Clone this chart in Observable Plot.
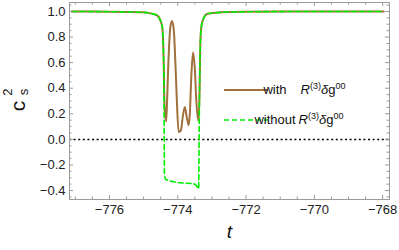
<!DOCTYPE html>
<html>
<head>
<meta charset="utf-8">
<script src="https://cdn.jsdelivr.net/npm/d3@7"></script>
<script src="https://cdn.jsdelivr.net/npm/@observablehq/plot@0.6"></script>
<style>
  body { margin: 0; background: white; }
</style>
</head>
<body>
<div id="chart"></div>
<script>
// ---- data ----
const tWith = [-777.1, -776.5, -776, -775.5, -775, -774.8, -774.655, -774.567, -774.509, -774.45, -774.412, -774.392,
  -774.342, -774.319, -774.275, -774.216, -774.167, -774.114, -774.070, -774.026, -773.974, -773.909, -773.851,
  -773.792, -773.734, -773.681, -773.646, -773.602, -773.553, -773.500, -773.456, -773.389, -773.360, -773.339,
  -773.310, -773.251, -773.143, -772.9, -772.17, -771, -769, -767.97];
const cWith = [1.0, 0.999, 0.998, 0.996, 0.993, 0.985, 0.975, 0.96, 0.93, 0.87, 0.6, 0.3,
  0.14, 0.25, 0.6, 0.88, 0.926, 0.85, 0.6, 0.3, 0.057, 0.07, 0.18,
  0.253, 0.17, 0.11, 0.2, 0.5, 0.68, 0.55, 0.3, 0.143, 0.4, 0.75,
  0.88, 0.94, 0.98, 0.99, 0.997, 0.999, 1.0, 1.0];

const tWithout = [-777.1, -776.5, -776, -775.5, -775, -774.8, -774.655, -774.567, -774.509, -774.45, -774.412, -774.40,
  -774.395, -774.39, -774.36, -774.266, -773.924, -773.535, -773.456, -773.389, -773.375, -773.360, -773.339,
  -773.310, -773.251, -773.143, -772.9, -772.17, -771, -769, -767.97];
const cWithout = [1.0, 0.999, 0.998, 0.996, 0.993, 0.985, 0.975, 0.96, 0.93, 0.87, 0.6, 0.2,
  -0.1, -0.27, -0.31, -0.321, -0.339, -0.347, -0.36, -0.386, 0.0, 0.4, 0.75,
  0.88, 0.94, 0.98, 0.99, 0.997, 0.999, 1.0, 1.0];

const xTickLabels = [-776, -774, -772, -770, -768];
const yTickLabels = [-0.4, -0.2, 0.0, 0.2, 0.4, 0.6, 0.8, 1.0];
const xMinor = d3.range(-777, -767.9, 0.5).filter(v => !xTickLabels.includes(v));
const yMinor = d3.range(-9, 22).map(k => k * 0.05).filter(v => !yTickLabels.some(m => Math.abs(m - v) < 1e-9));

const withData = tWith.map((t, i) => ({t, c: cWith[i]}));
const withoutData = tWithout.map((t, i) => ({t, c: cWithout[i]}));

// ---- layout ----
const W = 399, H = 250, mL = 69, mR = 10, mT = 2, mB = 51;
const fw = W - mL - mR, fh = H - mT - mB;
const frameGray = "#9a9a9a";
const brown = "#a0703d", green = "#00ee00";

const plot = Plot.plot({
  width: W, height: H,
  marginLeft: mL, marginRight: mR, marginTop: mT, marginBottom: mB,
  x: {domain: [-777.17, -767.8]},
  y: {domain: [-0.47, 1.07]},
  style: {fontFamily: "'Liberation Sans', Arial, sans-serif", fontSize: "13px", background: "white", color: "#222"},
  marks: [
    Plot.ruleY([0], {stroke: "black", strokeWidth: 1.5, strokeDasharray: "2,2.6"}),
    Plot.line(withData, {x: "t", y: "c", stroke: brown, strokeWidth: 2, curve: "monotone-x"}),
    Plot.line(withoutData, {x: "t", y: "c", stroke: green, strokeWidth: 1.6, strokeDasharray: "5,3", curve: "monotone-x"}),
    Plot.frame({stroke: frameGray}),
    // inward frame ticks
    Plot.tickX(xTickLabels, {x: d => d, stroke: frameGray, insetTop: fh - 4}),
    Plot.tickX(xMinor, {x: d => d, stroke: frameGray, insetTop: fh - 2.5}),
    Plot.tickX(xTickLabels, {x: d => d, stroke: frameGray, insetBottom: fh - 4}),
    Plot.tickX(xMinor, {x: d => d, stroke: frameGray, insetBottom: fh - 2.5}),
    Plot.tickY(yTickLabels, {y: d => d, stroke: frameGray, insetRight: fw - 4}),
    Plot.tickY(yMinor, {y: d => d, stroke: frameGray, insetRight: fw - 2.5}),
    Plot.tickY(yTickLabels, {y: d => d, stroke: frameGray, insetLeft: fw - 4}),
    Plot.tickY(yMinor, {y: d => d, stroke: frameGray, insetLeft: fw - 2.5}),
    Plot.axisX(xTickLabels, {tickSize: 0, tickPadding: 5, label: null, fontSize: 13}),
    Plot.axisY(yTickLabels, {tickSize: 0, tickPadding: 4, label: null, fontSize: 13, tickFormat: d3.format(".1f")}),
    Plot.text(["t"], {frameAnchor: "bottom", dy: 38, fontStyle: "italic", fontSize: 19, fill: "#111"})
  ]
});

document.getElementById("chart").appendChild(plot);

// ---- y label c_s^2 and legend ----
const svg = d3.select(plot);
const g = svg.append("g")
  .attr("transform", "translate(25,106) rotate(-90)")
  .attr("font-family", "'Liberation Sans', Arial, sans-serif")
  .attr("fill", "#111");
g.append("text").attr("text-anchor", "middle").attr("font-size", 21).text("c");
g.append("text").attr("x", 14).attr("y", 3).attr("text-anchor", "middle").attr("font-size", 13).text("s");
g.append("text").attr("x", 14).attr("y", -13).attr("text-anchor", "middle").attr("font-size", 13).text("2");

const leg = svg.append("g")
  .attr("font-family", "'Liberation Sans', Arial, sans-serif")
  .attr("font-size", 13)
  .attr("fill", "#111");
leg.append("line").attr("x1", 224).attr("x2", 268).attr("y1", 90).attr("y2", 90)
  .attr("stroke", brown).attr("stroke-width", 2);
leg.append("line").attr("x1", 224).attr("x2", 268).attr("y1", 120).attr("y2", 120)
  .attr("stroke", green).attr("stroke-width", 1.6).attr("stroke-dasharray", "5,3");

function addLabel(x, y, prefix, rx) {
  const t = leg.append("text").attr("x", x).attr("y", y);
  t.append("tspan").text(prefix);
  const t2 = leg.append("text").attr("x", rx).attr("y", y);
  t2.append("tspan").attr("font-style", "italic").text("R");
  t2.append("tspan").attr("font-size", 9).attr("dy", -5).text("(3)");
  t2.append("tspan").attr("font-style", "italic").attr("dy", 5).text("δ");
  t2.append("tspan").text("g");
  t2.append("tspan").attr("font-size", 9).attr("dy", -5).text("00");
}
addLabel(275, 94, "with", 323);
addLabel(275, 124, "without", 321);
</script>
</body>
</html>
